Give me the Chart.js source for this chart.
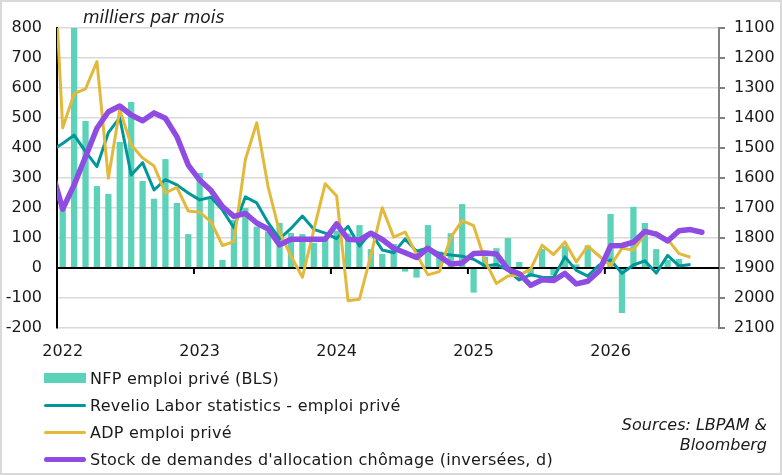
<!DOCTYPE html>
<html>
<head>
<meta charset="utf-8">
<script src="https://cdn.jsdelivr.net/npm/chart.js@4.4.1/dist/chart.umd.min.js"></script>
<style>
body { margin: 0; background: #fff; font-family: "DejaVu Sans", sans-serif; color: #1a1a1a; }
#wrap { position: relative; width: 782px; height: 475px; overflow: hidden; }
#cadre { position: absolute; left: 0; top: 0; width: 782px; height: 475px; box-sizing: border-box; border: 2px solid #d9d9d9; pointer-events: none; }
#unite { position: absolute; left: 83px; top: 7px; font-style: italic; font-size: 17px; }
.leg { position: absolute; left: 44px; height: 22px; display: flex; align-items: center; font-size: 16px; letter-spacing: 0.25px; white-space: nowrap; }
.sw { width: 42px; margin-right: 4px; }
#sources { position: absolute; right: 15px; top: 415px; text-align: right; font-style: italic; font-size: 16px; line-height: 20px; }
</style>
</head>
<body>
<div id="wrap">
  <canvas id="myChart" width="782" height="475"></canvas>
  <div id="unite">milliers par mois</div>
  <div id="legende"></div>
  <div id="sources">Sources: LBPAM &amp;<br>Bloomberg</div>
  <div id="cadre"></div>
</div>
<script>
// mois (le premier, déc. 2021, sert seulement à faire entrer les courbes par le bord gauche)
var Mois = ['2021-12',
  '2022-01','2022-02','2022-03','2022-04','2022-05','2022-06','2022-07','2022-08','2022-09','2022-10','2022-11','2022-12',
  '2023-01','2023-02','2023-03','2023-04','2023-05','2023-06','2023-07','2023-08','2023-09','2023-10','2023-11','2023-12',
  '2024-01','2024-02','2024-03','2024-04','2024-05','2024-06','2024-07','2024-08','2024-09','2024-10','2024-11','2024-12',
  '2025-01','2025-02','2025-03','2025-04','2025-05','2025-06','2025-07','2025-08','2025-09','2025-10','2025-11','2025-12',
  '2026-01','2026-02','2026-03','2026-04','2026-05','2026-06','2026-07','2026-08','2026-09','2026-10']

var NFP_prive = [null,
  205, 830, 490, 273, 247, 420, 553, 290, 231, 363, 217, 113,
  317, 231, 27, 160, 200, 138, 122, 150, 117, 113, 84, 95,
  125, 115, 143, 63, 47, 80, -12, -32, 143, 55, 116, 213,
  -82, 38, 66, 100, 20, -30, 64, -25, 74, 12, 75, 5,
  180, -150, 204, 150, 63, 27, 30, null, null, null]

var Revelio = [392,
  415, 443, 388, 338, 451, 501, 310, 351, 260, 295, 277, 250,
  227, 236, 193, 134, 237, 217, 151, 97, 132, 173, 129, 116,
  98, 139, 73, 118, 60, 51, 97, 56, 67, 48, 43, 39,
  29, 7, 12, -7, -40, -22, -31, -32, 37, -8, -27, 10,
  27, -18, 10, 24, -17, 42, 7, 12, null, null]

var ADP = [1200,
  467, 581, 597, 688, 299, 528, 410, 367, 340, 250, 269, 190,
  186, 154, 75, 88, 361, 484, 270, 120, 40, -31, 127, 281,
  240, -109, -104, 42, 201, 103, 120, 46, -23, -12, 102, 158,
  141, 25, -52, -27, -24, -4, 76, 45, 87, 20, 73, 40,
  8, 66, 60, 113, 118, 96, 48, 36, null, null]

var Stock_chomage = [1570,
  1704, 1623, 1529, 1434, 1379, 1360, 1390, 1409, 1383, 1401, 1462, 1557,
  1607, 1642, 1695, 1728, 1718, 1750, 1770, 1823, 1804, 1804, 1804, 1804,
  1753, 1804, 1807, 1784, 1805, 1834, 1849, 1865, 1834, 1861, 1887, 1883,
  1852, 1850, 1853, 1904, 1919, 1958, 1939, 1942, 1918, 1953, 1944, 1910,
  1826, 1825, 1814, 1778, 1787, 1810, 1776, 1772, 1781, null]

var Noms = ['NFP emploi privé (BLS)', 'Revelio Labor statistics - emploi privé', 'ADP emploi privé',
  "Stock de demandes d'allocation chômage (inversées, d)"]

var vert = '#5cd3b9'
var bleuVert = '#00979b'
var jaune = '#e3b93c'
var violet = '#8f4ce2'

Chart.defaults.font.family = 'DejaVu Sans'
Chart.defaults.font.size = 16
Chart.defaults.color = '#1a1a1a'

// ligne du zéro et repères des années, dessinés après les barres
var axeZero = {
  id: 'axeZero',
  afterDatasetDraw: function (chart, args) {
    if (args.index !== 0) return
    var ctx = chart.ctx
    var area = chart.chartArea
    var x = chart.scales.x
    var y0 = chart.scales.y.getPixelForValue(0)
    ctx.save()
    ctx.strokeStyle = '#000'
    ctx.lineWidth = 2
    ctx.beginPath()
    ctx.moveTo(area.left, y0)
    ctx.lineTo(area.right, y0)
    ctx.stroke()
    for (var i = 2; i < Mois.length; i++) {
      if (Mois[i].slice(5) === '01') {
        var px = (x.getPixelForValue(i - 1) + x.getPixelForValue(i)) / 2
        ctx.beginPath()
        ctx.moveTo(px, y0)
        ctx.lineTo(px, y0 + 6)
        ctx.stroke()
      }
    }
    ctx.restore()
  }
}

var ctx = document.getElementById('myChart')
var myChart = new Chart(ctx, {
  type: 'bar',
  data: {
    labels: Mois,
    datasets: [{
      label: Noms[0],
      data: NFP_prive,
      backgroundColor: vert,
      categoryPercentage: 1,
      barPercentage: 0.55,
      yAxisID: 'y',
      order: 3
    },
    {
      type: 'line',
      label: Noms[1],
      data: Revelio,
      borderColor: bleuVert,
      backgroundColor: bleuVert,
      borderWidth: 3,
      pointRadius: 0,
      tension: 0,
      borderJoinStyle: 'round',
      yAxisID: 'y',
      order: 2
    },
    {
      type: 'line',
      label: Noms[2],
      data: ADP,
      borderColor: jaune,
      backgroundColor: jaune,
      borderWidth: 3,
      pointRadius: 0,
      tension: 0,
      borderJoinStyle: 'round',
      yAxisID: 'y',
      order: 1
    },
    {
      type: 'line',
      label: Noms[3],
      data: Stock_chomage,
      borderColor: violet,
      backgroundColor: violet,
      borderWidth: 5.5,
      pointRadius: 0,
      tension: 0,
      borderJoinStyle: 'round',
      borderCapStyle: 'round',
      yAxisID: 'y1',
      order: 0
    }]
  },
  options: {
    responsive: false,
    animation: false,
    layout: { padding: { top: 28, bottom: 113, left: 0, right: 0 } },
    plugins: { legend: { display: false }, tooltip: { enabled: false } },
    scales: {
      x: {
        min: '2022-01',
        max: '2026-10',
        grid: { display: false, drawTicks: false },
        border: { display: false },
        ticks: {
          autoSkip: false,
          maxRotation: 0,
          padding: 14,
          callback: function (v) {
            var m = Mois[v]
            return m && m.slice(5) === '01' ? m.slice(0, 4) : ''
          }
        },
        afterFit: function (s) { s.height = 34 }
      },
      y: {
        position: 'left',
        min: -200,
        max: 800,
        ticks: { stepSize: 100, padding: 15, callback: function (v) { return String(v) } },
        grid: { color: '#d9d9d9', lineWidth: 1.5, drawTicks: false },
        border: { color: '#000', width: 2 },
        afterFit: function (s) { s.width = 57 }
      },
      y1: {
        position: 'right',
        reverse: true,
        min: 1100,
        max: 2100,
        ticks: { stepSize: 100, padding: 9, callback: function (v) { return String(v) } },
        grid: { drawOnChartArea: false, drawTicks: true, tickLength: 6, color: '#808080', lineWidth: 2 },
        border: { color: '#808080', width: 2 },
        afterFit: function (s) { s.width = 63 }
      }
    }
  },
  plugins: [axeZero]
})

// légende à la main, une entrée par ligne
var legende = document.getElementById('legende')
var hauts = [367, 394, 421, 448]
myChart.data.datasets.forEach(function (d, i) {
  var row = document.createElement('div')
  row.className = 'leg'
  row.style.top = hauts[i] + 'px'
  var sw = document.createElement('span')
  sw.className = 'sw'
  if (i === 0) {
    sw.style.height = '10px'
    sw.style.background = d.backgroundColor
  } else {
    sw.style.height = (i === 3 ? 5 : 3) + 'px'
    sw.style.borderRadius = '3px'
    sw.style.background = d.borderColor
  }
  row.appendChild(sw)
  row.appendChild(document.createTextNode(d.label))
  legende.appendChild(row)
})
</script>
</body>
</html>
